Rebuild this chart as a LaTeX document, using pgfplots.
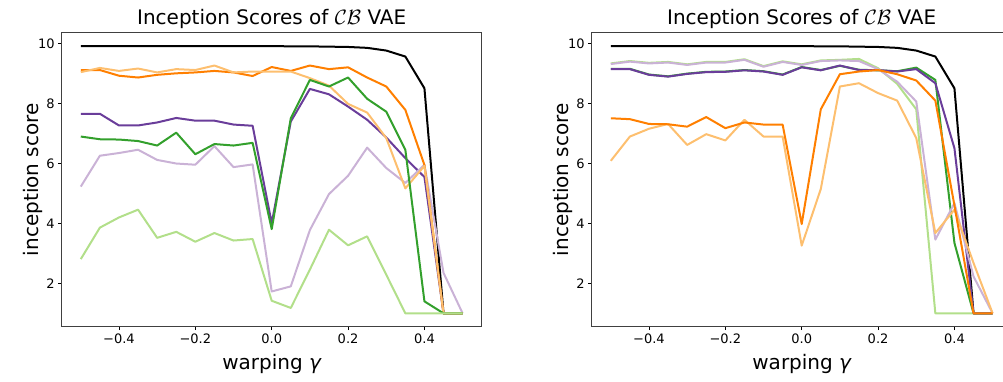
\documentclass[border=0pt]{standalone}
\usepackage{pgfplots}
\usepackage{pgfplotstable}
\pgfplotsset{compat=1.18}
\usepackage{fontspec}
\setmainfont{DejaVu Sans}
\definecolor{clg}{HTML}{B2DF8A}
\definecolor{cg}{HTML}{33A02C}
\definecolor{clo}{HTML}{FDBF6F}
\definecolor{co}{HTML}{FF7F00}
\definecolor{clp}{HTML}{CAB2D6}
\definecolor{cp}{HTML}{6A3D9A}
\pgfplotstableread{
x lg g lo o lp p k
-0.50 2.81 6.90 9.05 9.12 5.23 7.66 9.92
-0.45 3.86 6.81 9.19 9.12 6.26 7.66 9.92
-0.40 4.20 6.80 9.09 8.93 6.35 7.27 9.92
-0.35 4.46 6.75 9.17 8.87 6.46 7.27 9.92
-0.30 3.52 6.60 9.04 8.96 6.12 7.37 9.92
-0.25 3.72 7.03 9.15 9.01 6.00 7.52 9.92
-0.20 3.39 6.31 9.12 9.04 5.96 7.43 9.92
-0.15 3.68 6.65 9.27 9.09 6.58 7.43 9.92
-0.10 3.43 6.60 9.04 9.04 5.88 7.30 9.92
-0.05 3.48 6.69 9.07 8.92 5.97 7.26 9.92
0.00 1.42 3.81 9.07 9.22 1.73 4.01 9.92
0.05 1.18 7.51 9.07 9.09 1.90 7.40 9.91
0.10 2.46 8.79 8.85 9.27 3.78 8.49 9.91
0.15 3.79 8.57 8.60 9.15 4.98 8.31 9.90
0.20 3.27 8.87 7.99 9.21 5.59 7.90 9.89
0.25 3.57 8.16 7.70 8.87 6.53 7.46 9.86
0.30 2.29 7.73 6.85 8.57 5.85 6.87 9.77
0.35 1.00 6.46 5.17 7.79 5.35 6.18 9.57
0.40 1.00 1.40 5.92 5.95 5.96 5.55 8.51
0.45 1.00 1.00 1.00 1.00 2.35 1.00 1.00
0.50 1.00 1.00 1.00 1.00 1.00 1.00 1.00
}\tabL
\pgfplotstableread{
x lg g lo o lp p k
-0.50 9.34 9.16 6.09 7.51 9.32 9.15 9.92
-0.45 9.42 9.16 6.90 7.48 9.40 9.15 9.92
-0.40 9.36 8.97 7.16 7.32 9.34 8.96 9.92
-0.35 9.39 8.91 7.32 7.31 9.37 8.90 9.92
-0.30 9.31 9.00 6.62 7.23 9.29 8.99 9.92
-0.25 9.39 9.06 6.98 7.55 9.37 9.05 9.92
-0.20 9.39 9.07 6.77 7.18 9.37 9.06 9.92
-0.15 9.48 9.12 7.46 7.37 9.46 9.11 9.92
-0.10 9.25 9.08 6.90 7.30 9.23 9.07 9.92
-0.05 9.41 8.97 6.90 7.30 9.39 8.96 9.92
0.00 9.31 9.22 3.26 3.98 9.29 9.21 9.92
0.05 9.44 9.12 5.15 7.81 9.42 9.11 9.91
0.10 9.46 9.26 8.57 8.98 9.44 9.27 9.91
0.15 9.49 9.13 8.68 9.07 9.42 9.12 9.90
0.20 9.18 9.11 8.35 9.12 9.15 9.12 9.89
0.25 8.66 9.08 8.10 8.98 8.73 9.07 9.86
0.30 7.81 9.20 6.85 8.77 8.07 9.15 9.77
0.35 1.00 8.79 3.68 8.10 3.46 8.68 9.57
0.40 1.00 3.35 4.46 4.60 4.68 6.51 8.51
0.45 1.00 1.00 2.68 1.00 2.23 1.00 1.00
0.50 1.00 1.00 1.00 1.00 1.00 1.00 1.00
}\tabR
\pgfplotsset{
  panel/.style={
    scale only axis, width=420pt, height=294pt, anchor=south west,
    xmin=-0.55, xmax=0.55, ymin=0.554, ymax=10.366,
    xtick={-0.4,-0.2,0,0.2,0.4},
    xticklabels={−0.4,−0.2,0.0,0.2,0.4},
    ytick={2,4,6,8,10}, yticklabels={2,4,6,8,10},
    tick pos=left, tick align=outside, major tick length=3.5pt,
    tick style={black, line width=0.8pt},
    axis line style={black!75, line width=1pt},
    tick label style={font=\fontsize{13}{15}\selectfont},
    every axis plot/.append style={line width=2pt, line join=round, no markers},
  }
}
\begin{document}
\begin{tikzpicture}[x=1pt,y=1pt]
\begin{axis}[panel, at={(61.7pt,54.3pt)}]
\addplot[black] table[x=x,y=k]{\tabL};
\addplot[cp] table[x=x,y=p]{\tabL};
\addplot[clp] table[x=x,y=lp]{\tabL};
\addplot[co] table[x=x,y=o]{\tabL};
\addplot[clo] table[x=x,y=lo]{\tabL};
\addplot[cg] table[x=x,y=g]{\tabL};
\addplot[clg] table[x=x,y=lg]{\tabL};
\end{axis}
\begin{axis}[panel, at={(591.7pt,54.3pt)}]
\addplot[black] table[x=x,y=k]{\tabR};
\addplot[cg] table[x=x,y=g]{\tabR};
\addplot[clg] table[x=x,y=lg]{\tabR};
\addplot[cp] table[x=x,y=p]{\tabR};
\addplot[clp] table[x=x,y=lp]{\tabR};
\addplot[clo] table[x=x,y=lo]{\tabR};
\addplot[co] table[x=x,y=o]{\tabR};
\end{axis}
\begin{scope}[every node/.style={font=\fontsize{20}{24}\selectfont, inner sep=0pt}]
\node[anchor=base] at (271.7,356.8) {Inception Scores of $\mathcal{CB}$ VAE};
\node[anchor=base] at (801.7,356.8) {Inception Scores of $\mathcal{CB}$ VAE};
\node[anchor=base] at (271.7,12) {warping {\itshape γ}};
\node[anchor=base] at (801.7,12) {warping {\itshape γ}};
\node[anchor=base, rotate=90] at (38,201.3) {inception score};
\node[anchor=base, rotate=90] at (568,201.3) {inception score};
\end{scope}
\pgfresetboundingbox
\useasboundingbox (0,0) rectangle (1003,381);
\end{tikzpicture}
\end{document}
